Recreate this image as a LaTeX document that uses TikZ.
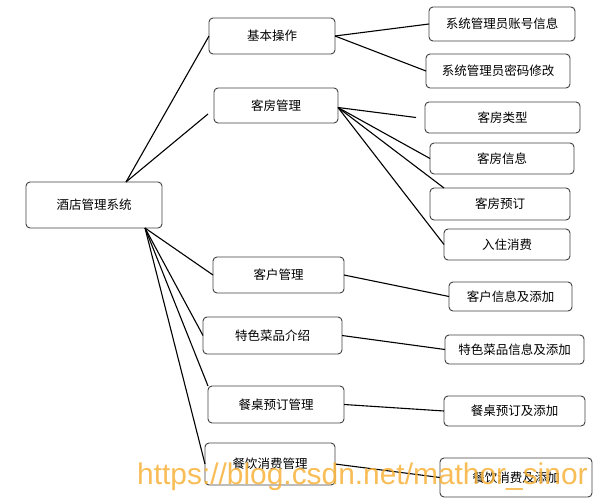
\documentclass[tikz,border=0pt]{standalone}
\usepackage{fontspec}
\newfontfamily\cjk{Noto Sans CJK SC}
\newfontfamily\wmfont{Liberation Sans}
\definecolor{wmorange}{RGB}{247,178,58}
\tikzset{
  box/.style={draw=black!75, line width=0.9pt, rounded corners=4pt, inner sep=0pt, outer sep=0pt,
    text=black, font=\cjk\fontsize{12.5}{14}\selectfont},
  link/.style={draw=black, line width=1.1pt}
}

\begin{document}
\begin{tikzpicture}[x=1pt,y=-1pt]
\useasboundingbox (0,0) rectangle (597,500);
\node[box, minimum width=136pt, minimum height=46pt] (sys) at (94, 205) {酒店管理系统};
\node[box, minimum width=126pt, minimum height=36pt] (op) at (272, 36) {基本操作};
\node[box, minimum width=124pt, minimum height=35pt] (room) at (276, 105.5) {客房管理};
\node[box, minimum width=131pt, minimum height=36pt] (cust) at (278.5, 275) {客户管理};
\node[box, minimum width=139pt, minimum height=37pt] (dish) at (272.5, 335.5) {特色菜品介绍};
\node[box, minimum width=136pt, minimum height=37pt] (tbl) at (276, 404.5) {餐桌预订管理};
\node[box, minimum width=130pt, minimum height=42pt] (food) at (270, 464) {餐饮消费管理};
\node[box, minimum width=146pt, minimum height=34pt] (acc) at (502, 24) {系统管理员账号信息};
\node[box, minimum width=144pt, minimum height=34pt] (pwd) at (498, 71) {系统管理员密码修改};
\node[box, minimum width=155pt, minimum height=31pt] (rtype) at (502.5, 117.5) {客房类型};
\node[box, minimum width=144pt, minimum height=31pt] (rinfo) at (502, 158.5) {客房信息};
\node[box, minimum width=140pt, minimum height=32pt] (rbook) at (500, 204) {客房预订};
\node[box, minimum width=126pt, minimum height=31pt] (rcons) at (507, 244.5) {入住消费};
\node[box, minimum width=123pt, minimum height=29pt] (cinfo) at (510.5, 296.5) {客户信息及添加};
\node[box, minimum width=139pt, minimum height=29pt] (dinfo) at (514.5, 349.5) {特色菜品信息及添加};
\node[box, minimum width=141pt, minimum height=30pt] (tinfo) at (514.5, 411) {餐桌预订及添加};
\node[box, minimum width=152pt, minimum height=39pt] (finfo) at (516, 477.5) {餐饮消费及添加};
\path[link] ([xshift=32pt]sys.north) edge (op.west);
\path[link] ([xshift=32pt]sys.north) edge ([xshift=-6pt,yshift=-8.5pt]room.west);
\path[link] ([xshift=51pt]sys.south) edge (cust.west);
\path[link] ([xshift=51pt]sys.south) edge (dish.west);
\path[link] ([xshift=51pt]sys.south) edge (tbl.north west);
\path[link] ([xshift=51pt]sys.south) edge (food.west);
\path[link] (op.east) edge (acc.west);
\path[link] (op.east) edge (pwd.west);
\path[link] ([yshift=-2pt]room.east) edge ([xshift=-9pt]rtype.west);
\path[link] ([yshift=-2pt]room.east) edge (rinfo.west);
\path[link] ([yshift=-2pt]room.east) edge ([xshift=14pt]rbook.north west);
\path[link] ([yshift=-2pt]room.east) edge (rcons.west);
\path[link] (cust.east) edge (cinfo.west);
\path[link] (dish.east) edge (dinfo.west);
\path[link] (tbl.east) edge (tinfo.west);
\path[link] (food.east) edge (finfo.west);
\node[anchor=base west, inner sep=0pt, text=wmorange, opacity=0.85, font=\wmfont\fontsize{29.9}{32}\selectfont] (wm) at (137, 484) {https://blog.csdn.net/mathor\_sinor};
\end{tikzpicture}
\end{document}
